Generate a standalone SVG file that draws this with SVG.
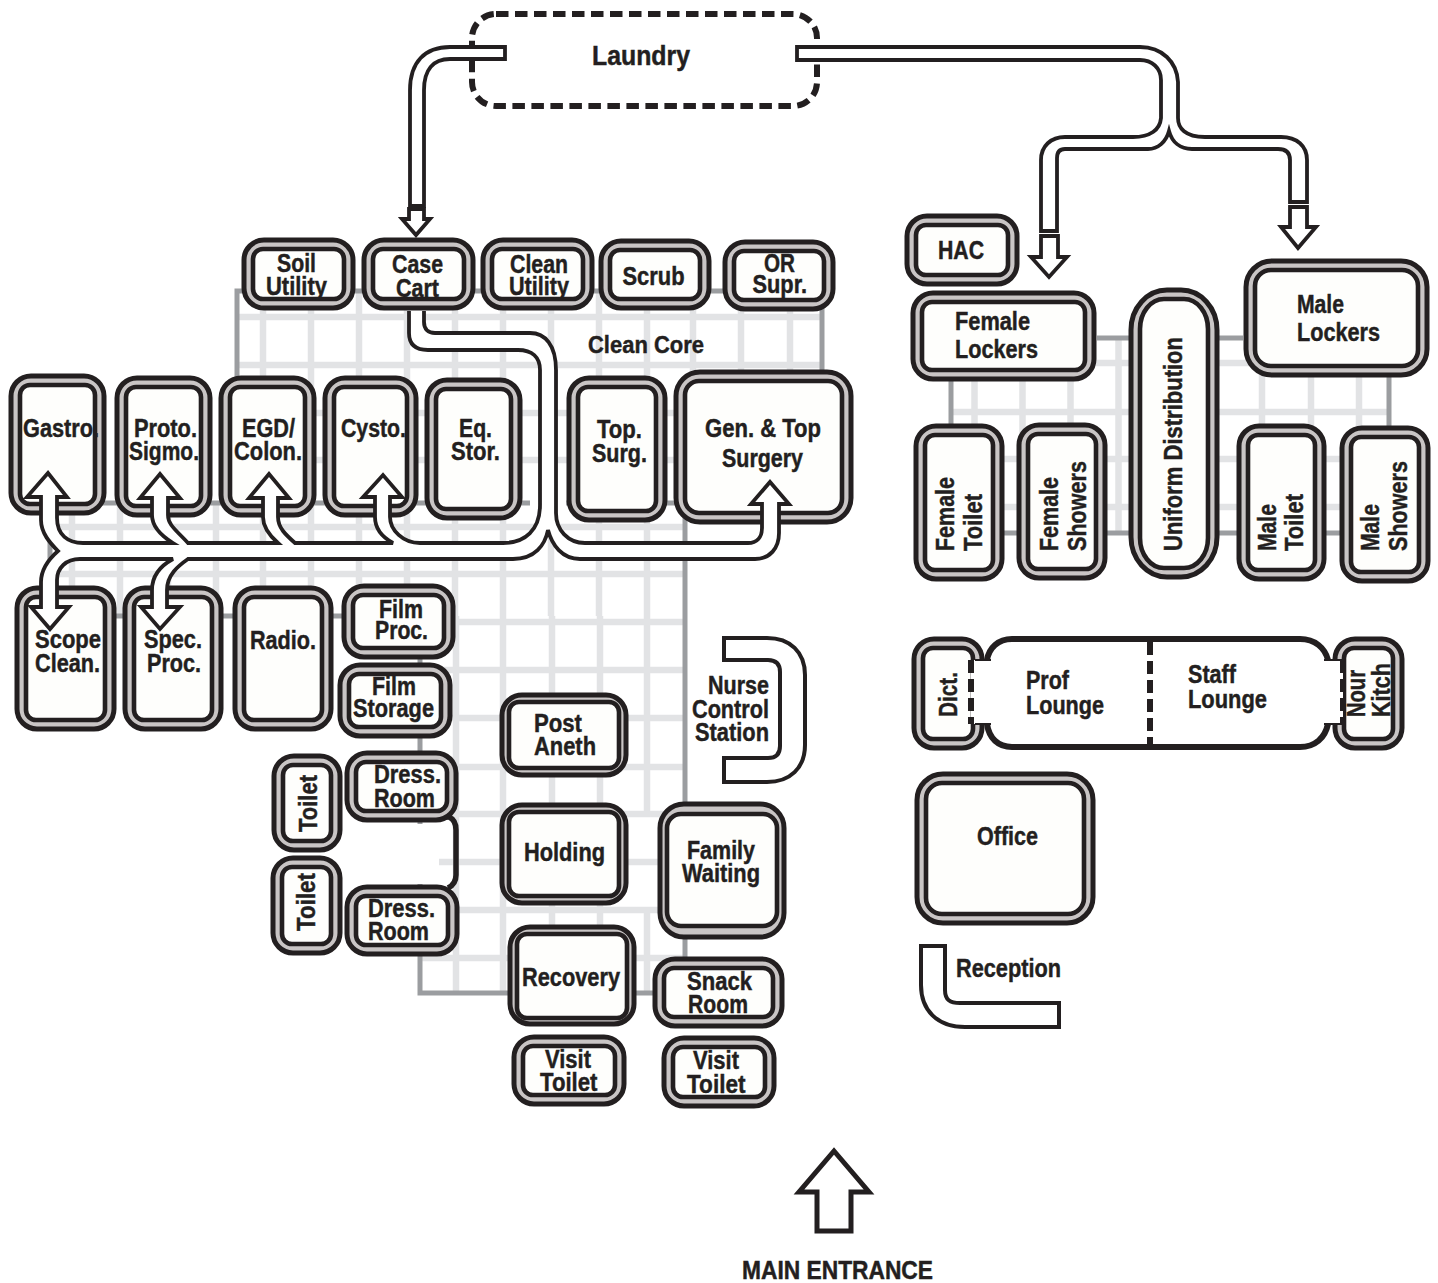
<svg xmlns="http://www.w3.org/2000/svg" width="1438" height="1283" viewBox="0 0 1438 1283">
<style>
.o{fill:#c9c5c5;stroke:#231f20;stroke-width:5;rx:20px;ry:20px}
.f{fill:#fefefc;rx:10px;ry:10px}
.s{fill:none;stroke:#231f20;stroke-width:4.6;rx:10px;ry:10px}
text{font-family:"Liberation Sans",Arial,sans-serif;font-weight:700;font-size:25px;fill:#231f20;stroke:#231f20;stroke-width:.45}
.sm{font-size:24px}
.lt{fill:none;stroke:#e2e3e5;stroke-width:6.5}
.wall{fill:none;stroke:#9b9da0;stroke-width:5}
.tube{fill:#fff;stroke:#231f20;stroke-width:3.8;stroke-linejoin:miter}
.desk{fill:#fff;stroke:#231f20;stroke-width:4}
</style>
<g id="grid">
<path class="lt" d="M263,291V503M311,291V503M359,291V503M407,291V503M455,291V503M503,291V503M551,291V503M599,291V503M647,291V503M693,291V503M741,291V503M790,291V503"/>
<path class="lt" d="M72,503V616M120,503V616M168,503V616M216,503V616M263,503V616M311,503V616M359,503V616M407,503V616M455,503V616M503,503V616M551,503V616M599,503V616M647,503V616"/>
<path class="lt" d="M456,616V993M503,616V993M552,616V993M600,616V993M647,616V814M647,910V993"/>
<path class="lt" d="M237,317H822M237,365H822M237,413H822M237,460H822M50,527H685M50,574H685M420,622H685M420,670H685M420,718H685M420,767H685M420,814H685M439,862H685M420,910H685M420,958H685"/>
<path class="lt" d="M974.5,338V533M1022.5,338V533M1070.5,338V533M1118.5,338V533M1262,338V533M1311,338V533M1359,338V533M951,363H1389M951,412H1389M951,459H1389M951,507H1389"/>
<path class="wall" d="M237,503V291H822V503M50,503H530M566,503H822M50,503V616H420V824M420,884V993H685V503M1097,338H1243M951,338V533H1389V338"/>
</g>
<g id="laundry">
<rect x="472" y="14" width="345" height="92" rx="24" fill="#fff" stroke="#231f20" stroke-width="6" stroke-dasharray="12.5 6.5"/>
<text x="592" y="65" textLength="98" lengthAdjust="spacingAndGlyphs" style="font-size:27px">Laundry</text>
</g>
<g id="clean-core"><text class="sm" x="588" y="353" textLength="116" lengthAdjust="spacingAndGlyphs">Clean Core</text></g>
<g id="soil-utility"><rect class="o" x="244" y="240" width="109" height="68"/><rect class="f" x="253" y="249" width="91" height="50"/><text x="277" y="272" textLength="39" lengthAdjust="spacingAndGlyphs">Soil</text><text x="266" y="295" textLength="61" lengthAdjust="spacingAndGlyphs">Utility</text><rect class="s" x="253" y="249" width="91" height="50"/></g>
<g id="case-cart"><rect class="o" x="364" y="240" width="109" height="68"/><rect class="f" x="373" y="249" width="91" height="50"/><text x="392" y="273" textLength="51" lengthAdjust="spacingAndGlyphs">Case</text><text x="396" y="297" textLength="43" lengthAdjust="spacingAndGlyphs">Cart</text><rect class="s" x="373" y="249" width="91" height="50"/></g>
<g id="clean-utility"><rect class="o" x="483" y="240" width="109" height="68"/><rect class="f" x="492" y="249" width="91" height="50"/><text x="510" y="273" textLength="58" lengthAdjust="spacingAndGlyphs">Clean</text><text x="509" y="295" textLength="60" lengthAdjust="spacingAndGlyphs">Utility</text><rect class="s" x="492" y="249" width="91" height="50"/></g>
<g id="scrub"><rect class="o" x="601" y="241" width="108" height="67"/><rect class="f" x="610" y="250" width="90" height="49"/><text x="622.5" y="285" textLength="62" lengthAdjust="spacingAndGlyphs">Scrub</text><rect class="s" x="610" y="250" width="90" height="49"/></g>
<g id="or-supr"><rect class="o" x="725" y="242" width="108" height="67"/><rect class="f" x="734" y="251" width="90" height="49"/><text x="764" y="272" textLength="31" lengthAdjust="spacingAndGlyphs">OR</text><text x="752.5" y="293" textLength="54.5" lengthAdjust="spacingAndGlyphs">Supr.</text><rect class="s" x="734" y="251" width="90" height="49"/></g>
<g id="gastro"><rect class="o" x="11" y="376" width="93" height="137"/><rect class="f" x="20" y="385" width="75" height="119"/><rect class="s" x="20" y="385" width="75" height="119"/><text x="23" y="437" textLength="76" lengthAdjust="spacingAndGlyphs">Gastro.</text></g>
<g id="proto-sigmo"><rect class="o" x="117" y="378" width="93" height="137"/><rect class="f" x="126" y="387" width="75" height="119"/><rect class="s" x="126" y="387" width="75" height="119"/><text x="134" y="437" textLength="63" lengthAdjust="spacingAndGlyphs">Proto.</text><text x="129" y="460" textLength="70" lengthAdjust="spacingAndGlyphs">Sigmo.</text></g>
<g id="egd-colon"><rect class="o" x="221" y="378" width="93" height="137"/><rect class="f" x="230" y="387" width="75" height="119"/><rect class="s" x="230" y="387" width="75" height="119"/><text x="242" y="437" textLength="53" lengthAdjust="spacingAndGlyphs">EGD/</text><text x="234" y="460" textLength="68" lengthAdjust="spacingAndGlyphs">Colon.</text></g>
<g id="cysto"><rect class="o" x="325" y="378" width="91" height="137"/><rect class="f" x="334" y="387" width="73" height="119"/><rect class="s" x="334" y="387" width="73" height="119"/><text x="341" y="437" textLength="65" lengthAdjust="spacingAndGlyphs">Cysto.</text></g>
<g id="eq-stor"><rect class="o" x="427" y="380" width="93" height="138"/><rect class="f" x="436" y="389" width="75" height="120"/><rect class="s" x="436" y="389" width="75" height="120"/><text x="459" y="437" textLength="33" lengthAdjust="spacingAndGlyphs">Eq.</text><text x="451" y="460" textLength="49" lengthAdjust="spacingAndGlyphs">Stor.</text></g>
<g id="top-surg"><rect class="o" x="569" y="378" width="96" height="142"/><rect class="f" x="578" y="387" width="78" height="124"/><rect class="s" x="578" y="387" width="78" height="124"/><text x="597" y="438" textLength="45" lengthAdjust="spacingAndGlyphs">Top.</text><text x="592" y="462" textLength="55" lengthAdjust="spacingAndGlyphs">Surg.</text></g>
<g id="gen-top-surgery"><rect class="o" x="676" y="372" width="175" height="150" style="rx:24px;ry:24px"/><rect class="f" x="685" y="381" width="157" height="132"/><rect class="s" x="685" y="381" width="157" height="132" style="rx:14px;ry:14px"/><text x="705" y="437" textLength="116" lengthAdjust="spacingAndGlyphs">Gen. &amp; Top</text><text x="722" y="467" textLength="81" lengthAdjust="spacingAndGlyphs">Surgery</text></g>
<g id="scope-clean"><rect class="o" x="17" y="588" width="97" height="141"/><rect class="f" x="26" y="597" width="79" height="123"/><rect class="s" x="26" y="597" width="79" height="123"/><text x="35" y="648" textLength="66" lengthAdjust="spacingAndGlyphs">Scope</text><text x="35" y="672" textLength="65" lengthAdjust="spacingAndGlyphs">Clean.</text></g>
<g id="spec-proc"><rect class="o" x="125" y="588" width="96" height="141"/><rect class="f" x="134" y="597" width="78" height="123"/><rect class="s" x="134" y="597" width="78" height="123"/><text x="144" y="648" textLength="58" lengthAdjust="spacingAndGlyphs">Spec.</text><text x="147" y="672" textLength="54" lengthAdjust="spacingAndGlyphs">Proc.</text></g>
<g id="radio"><rect class="o" x="235" y="588" width="96" height="141"/><rect class="f" x="244" y="597" width="78" height="123"/><rect class="s" x="244" y="597" width="78" height="123"/><text x="250" y="649" textLength="66" lengthAdjust="spacingAndGlyphs">Radio.</text></g>
<g id="film-proc"><rect class="o" x="344" y="586" width="109" height="71"/><rect class="f" x="353" y="595" width="91" height="53"/><rect class="s" x="353" y="595" width="91" height="53"/><text x="379" y="618" textLength="44" lengthAdjust="spacingAndGlyphs">Film</text><text x="375" y="639" textLength="53" lengthAdjust="spacingAndGlyphs">Proc.</text></g>
<g id="film-storage"><rect class="o" x="340" y="665" width="110" height="71"/><rect class="f" x="349" y="674" width="92" height="53"/><rect class="s" x="349" y="674" width="92" height="53"/><text x="372" y="695" textLength="44" lengthAdjust="spacingAndGlyphs">Film</text><text x="353" y="717" textLength="81" lengthAdjust="spacingAndGlyphs">Storage</text></g>
<g id="toilet-1"><rect class="o" x="274" y="756" width="66" height="94"/><rect class="f" x="283" y="765" width="48" height="76"/><rect class="s" x="283" y="765" width="48" height="76"/><text transform="translate(317,832) rotate(-90)" textLength="57" lengthAdjust="spacingAndGlyphs">Toilet</text></g>
<g id="toilet-2"><rect class="o" x="273" y="858" width="67" height="95"/><rect class="f" x="282" y="867" width="49" height="77"/><rect class="s" x="282" y="867" width="49" height="77"/><text transform="translate(315,931) rotate(-90)" textLength="58" lengthAdjust="spacingAndGlyphs">Toilet</text></g>
<path id="dress-bracket" d="M445,817H449Q456,820 456,830V875Q456,884 448,888" fill="none" stroke="#231f20" stroke-width="5.5"/>
<g id="dress-room-1"><rect class="o" x="347" y="753" width="109" height="67"/><rect class="f" x="356" y="762" width="91" height="49"/><text x="374" y="783" textLength="67" lengthAdjust="spacingAndGlyphs">Dress.</text><text x="374" y="807" textLength="61" lengthAdjust="spacingAndGlyphs">Room</text><rect class="s" x="356" y="762" width="91" height="49"/></g>
<g id="dress-room-2"><rect class="o" x="347" y="887" width="110" height="67"/><rect class="f" x="356" y="896" width="92" height="49"/><text x="368" y="917" textLength="67" lengthAdjust="spacingAndGlyphs">Dress.</text><text x="368" y="940" textLength="61" lengthAdjust="spacingAndGlyphs">Room</text><rect class="s" x="356" y="896" width="92" height="49"/></g>
<g id="post-aneth"><rect class="o" x="502" y="695" width="124" height="80"/><rect class="f" x="509" y="702" width="110" height="66"/><rect class="s" x="509" y="702" width="110" height="66"/><text x="534" y="732" textLength="48" lengthAdjust="spacingAndGlyphs">Post</text><text x="534" y="755" textLength="62" lengthAdjust="spacingAndGlyphs">Aneth</text></g>
<g id="holding"><rect class="o" x="502" y="805" width="124" height="98"/><rect class="f" x="509" y="812" width="110" height="84"/><rect class="s" x="509" y="812" width="110" height="84"/><text x="524" y="861" textLength="81" lengthAdjust="spacingAndGlyphs">Holding</text></g>
<g id="family-waiting"><rect class="o" x="660" y="804" width="124" height="133" style="rx:24px;ry:24px"/><rect class="f" x="667" y="814" width="110" height="112"/><rect class="s" x="667" y="814" width="110" height="112" style="rx:14px;ry:14px"/><text x="687" y="859" textLength="68" lengthAdjust="spacingAndGlyphs">Family</text><text x="682" y="882" textLength="78" lengthAdjust="spacingAndGlyphs">Waiting</text></g>
<g id="recovery"><rect class="o" x="510" y="927" width="124" height="97"/><rect class="f" x="517" y="934" width="110" height="84"/><rect class="s" x="517" y="934" width="110" height="84"/><text x="522" y="986" textLength="98" lengthAdjust="spacingAndGlyphs">Recovery</text></g>
<g id="snack-room"><rect class="o" x="655" y="959" width="127" height="67"/><rect class="f" x="664" y="968" width="109" height="49"/><text x="687" y="990" textLength="65" lengthAdjust="spacingAndGlyphs">Snack</text><text x="688" y="1013" textLength="60" lengthAdjust="spacingAndGlyphs">Room</text><rect class="s" x="664" y="968" width="109" height="49"/></g>
<g id="visit-toilet-1"><rect class="o" x="514" y="1037" width="110" height="67"/><rect class="f" x="523" y="1046" width="92" height="49"/><text x="545" y="1068" textLength="46" lengthAdjust="spacingAndGlyphs">Visit</text><text x="540" y="1091" textLength="57.5" lengthAdjust="spacingAndGlyphs">Toilet</text><rect class="s" x="523" y="1046" width="92" height="49"/></g>
<g id="visit-toilet-2"><rect class="o" x="664" y="1038" width="110" height="68"/><rect class="f" x="673" y="1047" width="92" height="50"/><text x="693" y="1069" textLength="46" lengthAdjust="spacingAndGlyphs">Visit</text><text x="687" y="1093" textLength="58.5" lengthAdjust="spacingAndGlyphs">Toilet</text><rect class="s" x="673" y="1047" width="92" height="50"/></g>
<g id="nurse-control-station"><path class="desk" d="M724,638H767C790,638 805,652 805,675V745C805,768 790,782 767,782H724V758H768C776,758 780,754 780,746V672C780,664 776,660 768,660H724Z"/><text x="708" y="694" textLength="61" lengthAdjust="spacingAndGlyphs">Nurse</text><text x="692" y="718" textLength="77" lengthAdjust="spacingAndGlyphs">Control</text><text x="695" y="741" textLength="74" lengthAdjust="spacingAndGlyphs">Station</text></g>
<g id="hac"><rect class="o" x="907" y="216" width="110" height="68"/><rect class="f" x="916" y="225" width="92" height="50"/><rect class="s" x="916" y="225" width="92" height="50"/><text x="938" y="259" textLength="46" lengthAdjust="spacingAndGlyphs">HAC</text></g>
<g id="female-lockers"><rect class="o" x="913" y="293" width="181" height="86"/><rect class="f" x="922" y="302" width="163" height="68"/><rect class="s" x="922" y="302" width="163" height="68"/><text x="955" y="330" textLength="75" lengthAdjust="spacingAndGlyphs">Female</text><text x="955" y="358" textLength="83" lengthAdjust="spacingAndGlyphs">Lockers</text></g>
<g id="uniform-distribution"><rect class="o" x="1131" y="290" width="86" height="287" style="rx:36px;ry:40px"/><rect class="f" x="1140" y="299" width="68" height="269" style="rx:24px;ry:30px"/><rect class="s" x="1140" y="299" width="68" height="269" style="rx:24px;ry:30px"/><text transform="translate(1182,551) rotate(-90)" textLength="214" lengthAdjust="spacingAndGlyphs">Uniform Distribution</text></g>
<g id="male-lockers"><rect class="o" x="1246" y="261" width="181" height="114" style="rx:26px;ry:26px"/><rect class="f" x="1255" y="270" width="163" height="96"/><rect class="s" x="1255" y="270" width="163" height="96" style="rx:16px;ry:16px"/><text x="1297" y="313" textLength="47" lengthAdjust="spacingAndGlyphs">Male</text><text x="1297" y="341" textLength="83" lengthAdjust="spacingAndGlyphs">Lockers</text></g>
<g id="female-toilet"><rect class="o" x="916" y="426" width="86" height="153"/><rect class="f" x="925" y="435" width="68" height="135"/><rect class="s" x="925" y="435" width="68" height="135"/><text transform="translate(954,551) rotate(-90)" textLength="74" lengthAdjust="spacingAndGlyphs">Female</text><text transform="translate(982,551) rotate(-90)" textLength="57" lengthAdjust="spacingAndGlyphs">Toilet</text></g>
<g id="female-showers"><rect class="o" x="1019" y="425" width="86" height="153"/><rect class="f" x="1028" y="434" width="68" height="135"/><rect class="s" x="1028" y="434" width="68" height="135"/><text transform="translate(1058,551) rotate(-90)" textLength="74" lengthAdjust="spacingAndGlyphs">Female</text><text transform="translate(1086,551) rotate(-90)" textLength="90" lengthAdjust="spacingAndGlyphs">Showers</text></g>
<g id="male-toilet"><rect class="o" x="1239" y="426" width="85" height="153"/><rect class="f" x="1248" y="435" width="67" height="135"/><rect class="s" x="1248" y="435" width="67" height="135"/><text transform="translate(1276,551) rotate(-90)" textLength="47" lengthAdjust="spacingAndGlyphs">Male</text><text transform="translate(1303,551) rotate(-90)" textLength="57" lengthAdjust="spacingAndGlyphs">Toilet</text></g>
<g id="male-showers"><rect class="o" x="1342" y="428" width="86" height="153"/><rect class="f" x="1351" y="437" width="68" height="135"/><rect class="s" x="1351" y="437" width="68" height="135"/><text transform="translate(1379,551) rotate(-90)" textLength="47" lengthAdjust="spacingAndGlyphs">Male</text><text transform="translate(1407,551) rotate(-90)" textLength="90" lengthAdjust="spacingAndGlyphs">Showers</text></g>
<g id="dict"><rect class="o" x="914" y="639" width="68" height="109"/><rect class="f" x="923" y="648" width="50" height="91"/><rect class="s" x="923" y="648" width="50" height="91"/></g>
<g id="nour-kitch"><rect class="o" x="1335" y="639" width="67" height="109"/><rect class="f" x="1344" y="648" width="49" height="91"/><rect class="s" x="1344" y="648" width="49" height="91"/></g>
<g id="lounge">
<rect x="971" y="660" width="372" height="64" fill="#fff"/>
<path d="M987,724C989,738 998,747 1012,747H1300C1315,747 1325,738 1328,724V660C1325,648 1315,639 1300,639H1012C998,639 989,648 987,660Z" fill="#fff"/>
<path d="M987,660C989,648 998,639 1012,639H1300C1315,639 1325,648 1328,660M987,724C989,738 998,747 1012,747H1300C1315,747 1325,738 1328,724" fill="none" stroke="#231f20" stroke-width="6"/>
<path d="M975,660H991M975,724H991M1324,660H1343M1324,724H1343" stroke="#231f20" stroke-width="2" fill="none"/>
<path d="M971,660V724M1150,642V745M1343,660V724" stroke="#231f20" stroke-width="6" stroke-dasharray="13 6" fill="none"/>
<text x="1026" y="689" textLength="43" lengthAdjust="spacingAndGlyphs">Prof</text><text x="1026" y="714" textLength="78" lengthAdjust="spacingAndGlyphs">Lounge</text>
<text x="1188" y="683" textLength="48" lengthAdjust="spacingAndGlyphs">Staff</text><text x="1188" y="708" textLength="79" lengthAdjust="spacingAndGlyphs">Lounge</text>
<text transform="translate(957,717) rotate(-90)" textLength="45" lengthAdjust="spacingAndGlyphs">Dict.</text>
<text transform="translate(1365,717) rotate(-90)" textLength="47" lengthAdjust="spacingAndGlyphs">Nour</text>
<text transform="translate(1390,717) rotate(-90)" textLength="54" lengthAdjust="spacingAndGlyphs">Kitch</text>
</g>
<g id="office"><rect class="o" x="917" y="774" width="176" height="149" style="rx:26px;ry:26px"/><rect class="f" x="926" y="783" width="158" height="131"/><rect class="s" x="926" y="783" width="158" height="131" style="rx:16px;ry:16px"/><text x="977" y="845" textLength="61" lengthAdjust="spacingAndGlyphs">Office</text></g>
<g id="reception"><path class="desk" d="M921,946H945V990C945,1000 950,1003 960,1003H1059V1027H965C937,1027 921,1010 921,985Z"/><text x="956" y="977" textLength="105" lengthAdjust="spacingAndGlyphs">Reception</text></g>
<g id="connectors">
<path class="tube" d="M505,47H450C425,47 410,62 410,90V206H424V90C424,70 433,59 450,59H505Z"/>
<path class="tube" d="M409,209H424V219H430L416,235L402,219H409Z"/>
<path class="tube" d="M797,47H1140C1162,47 1177,62 1178,82V118C1178,128 1185,137 1205,137H1281C1297,137 1307,146 1307,160V202H1290V160C1290,152 1285,149 1278,149H1192C1180,149 1172,142 1169,131C1166,142 1158,149 1148,149H1065C1060,149 1057,152 1057,158V231H1041V160C1041,146 1051,137 1065,137H1133C1150,137 1160,130 1161,118V80C1161,68 1152,60 1140,60H797Z"/>
<path class="tube" d="M1041,236H1058V257H1067L1049,277L1031,257H1041Z"/>
<path class="tube" d="M1290,207H1307V227H1316L1298,248L1281,227H1290Z"/>
<path class="tube" d="M409,311V333C409,345 416,350 428,350H518C532,350 540,357 540,370V505C540,530 525,543 503,543H420C403,543 390,530 390,517V497H402L383,475L363,497H375V517C375,528 382,537 393,543H295C286,535 278,528 278,517V498H289L269,474L249,498H263V517C263,528 270,536 278,543H188C176,530 168,525 168,515V498H180L160,474L140,498H152V515C152,526 160,535 173,543H83C68,543 57,535 57,518V497H67L48,473L27,497H41V520C41,533 50,543 58,551C50,558 41,568 41,582V607H31L50,629L69,607H57V580C57,568 66,559 80,559H173C160,566 152,576 152,590V607H141L160,629L180,607H167V590C167,575 178,566 188,559H513C535,559 545,545 548,530C552,545 562,559 580,559H755C770,559 779,548 779,533V504H789L770,482L751,504H762V528C762,537 757,543 748,543H585C568,543 556,530 556,513V370C556,345 545,333 530,333H435C428,333 424,329 424,322V311"/>
<path class="tube" style="stroke-width:5" d="M834,1151L869,1192H851V1231H817V1192H799Z"/>
</g>
<g id="main-entrance"><text x="742" y="1279" textLength="191" lengthAdjust="spacingAndGlyphs">MAIN ENTRANCE</text></g>
</svg>
